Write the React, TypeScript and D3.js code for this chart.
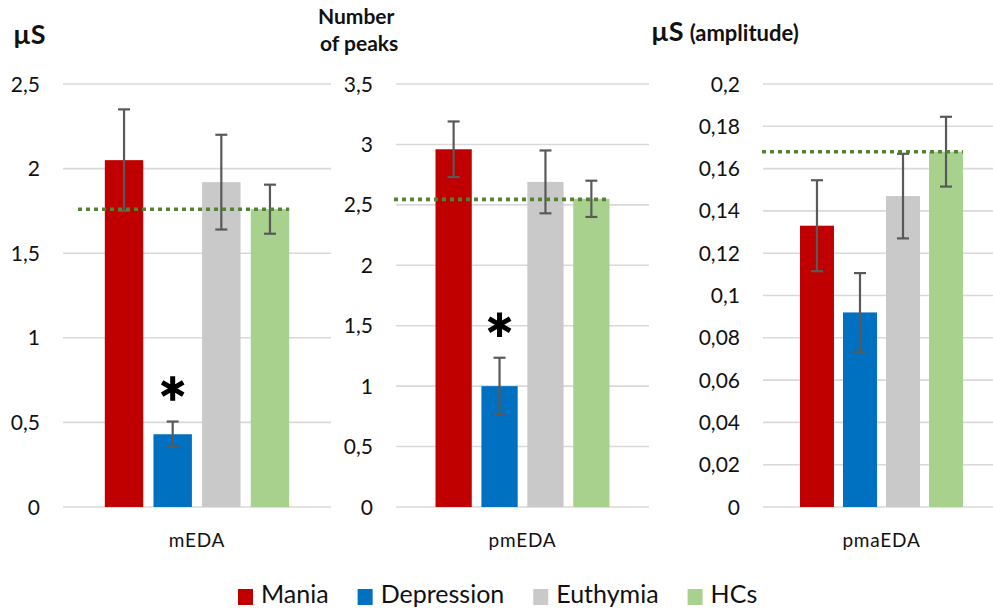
import { useEffect, useRef } from "react";
import * as d3 from "d3";

// groups and measures
const series = ["Mania", "Depression", "Euthymia", "HCs"];
const measures = ["mEDA", "pmEDA", "pmaEDA"];

// means and error bars
const meanEDA = [2.05, 0.43, 1.92, 1.76];
const errEDA = [0.3, 0.075, 0.28, 0.145];
const meanPeaks = [2.96, 1.0, 2.69, 2.55];
const errPeaks = [0.23, 0.235, 0.26, 0.15];
const meanAmp = [0.133, 0.092, 0.147, 0.168];
const errAmp = [0.0215, 0.0186, 0.02, 0.0165];

// dotted reference (HCs level) per measure
const refLevel = [1.76, 2.545, 0.168];
// which group carries the asterisk
const signif = ["Depression", "Depression", null];

const ticksEDA = [0, 0.5, 1, 1.5, 2, 2.5];
const ticksPeaks = [0, 0.5, 1, 1.5, 2, 2.5, 3, 3.5];
const ticksAmp = [0, 0.02, 0.04, 0.06, 0.08, 0.1, 0.12, 0.14, 0.16, 0.18, 0.2];

const colors = ["#c00000", "#0070c0", "#c9c9c9", "#a9d18e"];

const W = 993;
const H = 613;
const FONT = "Lato, 'Open Sans', sans-serif";

const locale = d3.formatLocale({ decimal: ",", thousands: ".", grouping: [3], currency: ["", ""] });
const fmt = locale.format(".2~f");

const panels = [
  { means: meanEDA, errs: errEDA, ticks: ticksEDA, left: 63, right: 331, refStart: 15 },
  { means: meanPeaks, errs: errPeaks, ticks: ticksPeaks, left: 396, right: 649, refStart: -2 },
  { means: meanAmp, errs: errAmp, ticks: ticksAmp, left: 763, right: 1000, refStart: -1 },
];

export default function App() {
  const svgRef = useRef<SVGSVGElement>(null);

  useEffect(() => {
    const svg = d3.select(svgRef.current);
    svg.selectAll("*").remove();

    const top = 84;
    const bottom = 507;

    panels.forEach((p, pi) => {
      const g = svg.append("g");
      const y = d3.scaleLinear().domain([0, d3.max(p.ticks) as number]).range([bottom, top]);
      const x = d3.scaleBand().domain(series).range([p.left, p.right]).paddingInner(0.21).paddingOuter(0.86);

      // gridlines
      g.selectAll(".grid")
        .data(p.ticks)
        .enter()
        .append("line")
        .attr("x1", p.left)
        .attr("x2", p.right)
        .attr("y1", (d) => y(d))
        .attr("y2", (d) => y(d))
        .attr("stroke", "#d9d9d9")
        .attr("stroke-width", 1.6);

      // tick labels
      g.selectAll(".tick")
        .data(p.ticks)
        .enter()
        .append("text")
        .attr("x", p.left - 23)
        .attr("y", (d) => y(d))
        .attr("dy", "0.36em")
        .attr("text-anchor", "end")
        .attr("font-family", FONT)
        .attr("font-size", 21)
        .attr("fill", "#111")
        .text((d) => fmt(d));

      // bars
      g.selectAll(".bar")
        .data(p.means)
        .enter()
        .append("rect")
        .attr("x", (_, i) => x(series[i]) as number)
        .attr("width", x.bandwidth())
        .attr("y", (d) => y(d))
        .attr("height", (d) => bottom - y(d))
        .attr("fill", (_, i) => colors[i]);

      // error bars
      p.means.forEach((m, i) => {
        const cx = (x(series[i]) as number) + x.bandwidth() / 2;
        const e = p.errs[i];
        const eg = g.append("g").attr("stroke", "#595959").attr("stroke-width", 2.2);
        eg.append("line").attr("x1", cx).attr("x2", cx).attr("y1", y(m + e)).attr("y2", y(m - e));
        eg.append("line").attr("x1", cx - 6).attr("x2", cx + 6).attr("y1", y(m + e)).attr("y2", y(m + e));
        eg.append("line").attr("x1", cx - 6).attr("x2", cx + 6).attr("y1", y(m - e)).attr("y2", y(m - e));
      });

      // dotted reference line
      const lastX = (x(series[series.length - 1]) as number) + x.bandwidth();
      g.append("line")
        .attr("x1", p.left + p.refStart)
        .attr("x2", lastX)
        .attr("y1", y(refLevel[pi]))
        .attr("y2", y(refLevel[pi]))
        .attr("stroke", "#548235")
        .attr("stroke-width", 3.6)
        .attr("stroke-dasharray", "4,4");

      // asterisk
      const s = signif[pi];
      if (s) {
        const si = series.indexOf(s);
        const cx = (x(s) as number) + x.bandwidth() / 2;
        const cy = y(p.means[si] + p.errs[si]) - 33;
        g.append("path")
          .attr("transform", `translate(${cx},${cy})`)
          .attr("d", d3.symbol(d3.symbolAsterisk, 420)() as string)
          .attr("stroke", "#000")
          .attr("stroke-width", 5)
          .attr("fill", "none");
      }

      // category label
      g.append("text")
        .attr("x", (p.left + p.right) / 2)
        .attr("y", 547)
        .attr("text-anchor", "middle")
        .attr("font-family", FONT)
        .attr("font-size", 19)
        .attr("letter-spacing", 0.8)
        .attr("fill", "#111")
        .text(measures[pi]);
    });

    // axis titles
    const t = svg.append("g").attr("font-family", FONT).attr("font-weight", 700).attr("fill", "#111");
    t.append("text").attr("x", 13).attr("y", 44).attr("font-size", 27).text("µS");
    t.append("text").attr("x", 318).attr("y", 24).attr("font-size", 21).text("Number");
    t.append("text").attr("x", 320).attr("y", 51).attr("font-size", 21).text("of peaks");
    const amp = t.append("text").attr("x", 651).attr("y", 41);
    amp.append("tspan").attr("font-size", 27).text("µS");
    amp.append("tspan").attr("font-size", 22).attr("dx", 6).text("(amplitude)");

    // legend
    const lg = svg.append("g");
    let lx = 238;
    series.forEach((name, i) => {
      lg.append("rect").attr("x", lx).attr("y", 589).attr("width", 15).attr("height", 16).attr("fill", colors[i]);
      const txt = lg
        .append("text")
        .attr("x", lx + 23)
        .attr("y", 603)
        .attr("font-family", FONT)
        .attr("font-size", 25)
        .attr("fill", "#111")
        .text(name);
      const len = (txt.node() as SVGTextElement).getComputedTextLength();
      lx += 23 + len + 29;
    });
  }, []);

  return (
    <svg
      ref={svgRef}
      width={W}
      height={H}
      viewBox={`0 0 ${W} ${H}`}
      style={{ position: "absolute", left: 0, top: 0, background: "#fff" }}
    />
  );
}
